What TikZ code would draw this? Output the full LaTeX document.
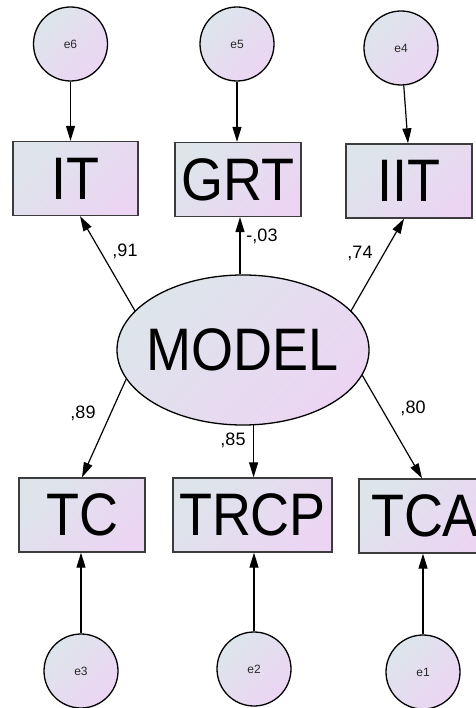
\documentclass[tikz,border=0pt]{standalone}
\usepackage{fontspec}
\usepackage{graphicx}
\setmainfont{Liberation Sans}
\usetikzlibrary{arrows.meta,shapes.geometric}

\definecolor{fillA}{RGB}{221,229,235}
\definecolor{fillB}{RGB}{236,213,243}
\definecolor{boxline}{RGB}{60,60,60}
\definecolor{labeltext}{RGB}{40,40,40}

% labels in the boxes are set slightly condensed
\newcommand{\cond}[1]{\scalebox{0.9}[1]{#1}}

\begin{document}
\begin{tikzpicture}[x=1pt,y=-1pt,
  gradfill/.style={left color=fillA, right color=fillB, shading angle=45},
  errc/.style={circle, draw=black, line width=1.3pt, minimum size=74pt,
    inner sep=0pt, gradfill, text=labeltext, font=\fontsize{12}{14}\selectfont},
  obsbox/.style={rectangle, draw=boxline, line width=1.3pt, inner sep=0pt,
    minimum height=74pt, gradfill, font=\fontsize{60}{72}\selectfont},
  latent/.style={ellipse, draw=black, line width=1.3pt, inner sep=0pt,
    minimum width=252pt, minimum height=150pt, gradfill,
    font=\fontsize{60}{72}\selectfont},
  path/.style={draw=black, line width=1.2pt, -{Triangle[length=15pt,width=9pt]}},
  coef/.style={font=\fontsize{18}{20}\selectfont, text=black, inner sep=0pt}
]
\useasboundingbox (0,0) rectangle (475,708);

% latent construct (zero-width text box so the ellipse keeps its set size)
\node[latent] (model) at (243,350) {\makebox[0pt]{\cond{MODEL}}};

% observed indicators, top row
\node[obsbox, minimum width=125pt] (it)  at (75.5,178.5) {\cond{IT}};
\node[obsbox, minimum width=126pt] (grt) at (238,179.5) {\cond{GRT}};
\node[obsbox, minimum width=126pt] (iit) at (409,181) {\cond{IIT}};

% observed indicators, bottom row
\node[obsbox, minimum width=126pt] (tc)   at (82,515) {\cond{TC}};
\node[obsbox, minimum width=159pt] (trcp) at (252.5,515) {\cond{TRCP}};
\node[obsbox, minimum width=132pt] (tca)  at (425,516) {\cond{TCA}};

% error terms
\node[errc] (e6) at (70.5,44) {e6};
\node[errc] (e5) at (237,44) {e5};
\node[errc] (e4) at (401,48) {e4};
\node[errc] (e3) at (81,671) {e3};
\node[errc] (e2) at (254,669) {e2};
\node[errc] (e1) at (423,672) {e1};

% error paths
\draw[path] (e6.south) -- (e6.south |- it.north);
\draw[path] (e5.south) -- (e5.south |- grt.north);
\draw[path] (e4) -- ([xshift=-1pt]iit.north);
\draw[path] (e3.north) -- (e3.north |- tc.south);
\draw[path] (e2.north) -- (e2.north |- trcp.south);
\draw[path] (e1.north) -- (e1.north |- tca.south);

% factor loadings
\draw[path] (model.160) -- ([xshift=4.5pt]it.south);
\draw[path] ([xshift=-3pt]model.north) -- ([xshift=-3pt]model.north |- grt.south);
\draw[path] (model.20) -- ([xshift=-5pt]iit.south);
\draw[path] (model.194) -- (tc.north);
\draw[path] (model.-82) -- (model.-82 |- trcp.north);
\draw[path] (model.-12) -- ([xshift=-3pt]tca.north);

% loading estimates
\node[coef] (l91) at (125,251) {,91};
\node[coef] (l03) at (262,236) {-,03};
\node[coef] (l74) at (360,253) {,74};
\node[coef] (l89) at (83,413) {,89};
\node[coef] (l85) at (233,440) {,85};
\node[coef] (l80) at (413,408) {,80};
\end{tikzpicture}
\end{document}
